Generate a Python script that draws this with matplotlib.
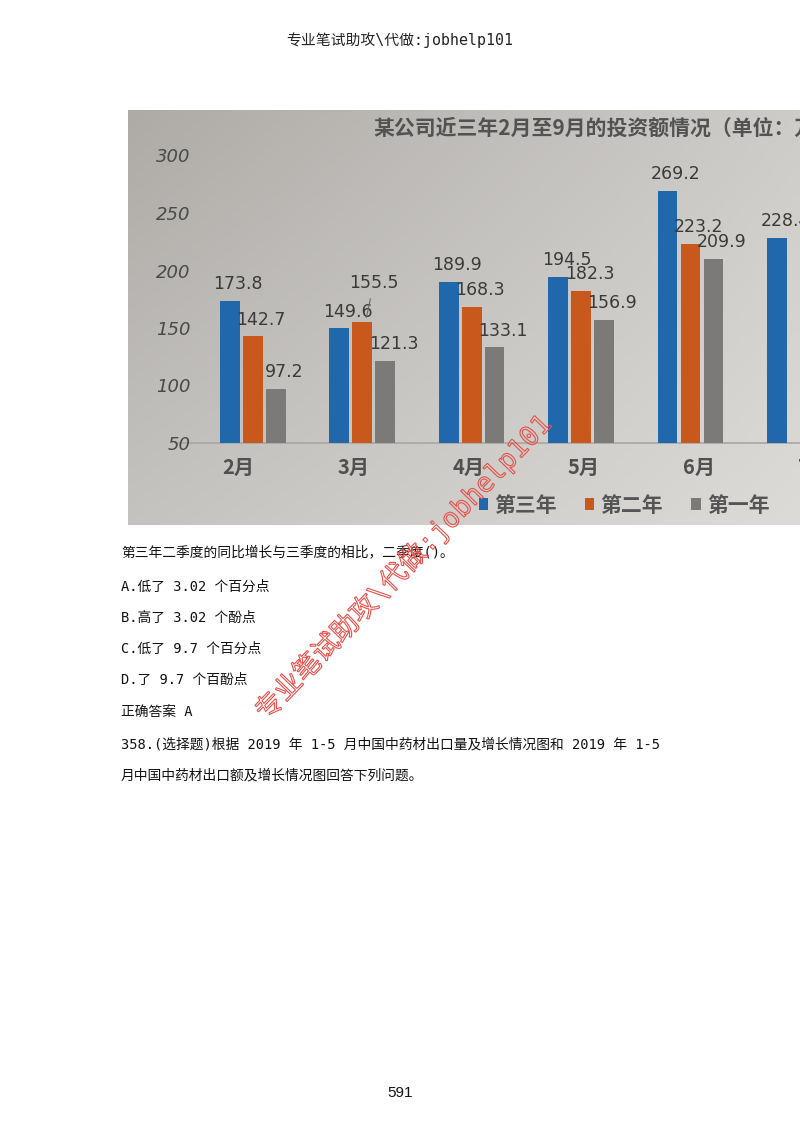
import matplotlib
matplotlib.use("Agg")
import matplotlib.pyplot as plt
import numpy as np
from matplotlib import patheffects
from matplotlib.transforms import ScaledTranslation
from matplotlib.font_manager import FontProperties

# ---------------- data ----------------
months = ["2月", "3月", "4月", "5月", "6月", "7月"]
year3 = [173.8, 149.6, 189.9, 194.5, 269.2, 228.4]
year2 = [142.7, 155.5, 168.3, 182.3, 223.2, np.nan]
year1 = [97.2, 121.3, 133.1, 156.9, 209.9, np.nan]
series_names = ["第三年", "第二年", "第一年"]
yticks = [50, 100, 150, 200, 250, 300]

chart_title = "某公司近三年2月至9月的投资额情况（单位：万元）"
header = "专业笔试助攻\\代做:jobhelp101"
watermark = "专业笔试助攻\\代做:jobhelp101"
body_lines = [
    "第三年二季度的同比增长与三季度的相比，二季度()。",
    "A.低了 3.02 个百分点",
    "B.高了 3.02 个酚点",
    "C.低了 9.7 个百分点",
    "D.了 9.7 个百酚点",
    "正确答案 A",
    "358.(选择题)根据 2019 年 1-5 月中国中药材出口量及增长情况图和 2019 年 1-5",
    "月中国中药材出口额及增长情况图回答下列问题。",
]
page_number = "591"

# ---------------- setup ----------------
plt.rcParams["font.family"] = ["Noto Sans CJK SC", "DejaVu Sans"]
plt.rcParams["axes.unicode_minus"] = False
body_family = ["DejaVu Sans Mono", "Noto Sans CJK SC"]

W, H = 800, 1132
fig = plt.figure(figsize=(W / 100, H / 100), dpi=100)
fig.patch.set_facecolor("white")


def fx(px):
    return px / W


def fy(py):
    return 1 - py / H


# photo background (gradient)
bg = fig.add_axes([fx(128), fy(525), fx(672), 415 / H])
corners = np.array([[[174, 171, 167], [206, 204, 201]],
                    [[197, 195, 192], [221, 219, 216]]]) / 255.0
ny, nx = 60, 120
ty = np.linspace(0, 1, ny)[:, None, None]
tx = np.linspace(0, 1, nx)[None, :, None]
img = ((1 - ty) * ((1 - tx) * corners[0, 0] + tx * corners[0, 1])
       + ty * ((1 - tx) * corners[1, 0] + tx * corners[1, 1]))
bg.imshow(img, aspect="auto", interpolation="bilinear", extent=[0, 1, 0, 1])
bg.set_xlim(0, 1)
bg.set_ylim(0, 1)
bg.axis("off")

# chart axes
ax = fig.add_axes([fx(200), fy(443), fx(600), (443 - 110) / H])
ax.set_facecolor("none")
px_per_unit = 1.15
ax.set_ylim(50, 50 + 333 / px_per_unit)
ax.set_xlim((200 - 254) / 112, (800 - 254) / 112)

colors = ["#2067ab", "#c9581d", "#7c7a78"]
offsets = [-0.21, 0.0, 0.21]
bar_w = 0.18
idx = np.arange(len(months))
handles = []
for vals, col, off, name in zip([year3, year2, year1], colors, offsets, series_names):
    v = np.array(vals, dtype=float)
    m = np.isfinite(v)
    bc = ax.bar(idx[m] + off, v[m] - 50, bottom=50, width=bar_w, color=col,
                label=name, zorder=2)
    handles.append(bc)
    for xi, vi in zip(idx[m] + off, v[m]):
        if name == "第二年" and xi == 1 + off:
            ax.annotate(f"{vi:.1f}", (xi + 0.03, vi), xytext=(6, 28),
                        textcoords="offset points", ha="center", va="center",
                        fontsize=12.5, color="#3a3a3a", family="DejaVu Sans",
                        arrowprops=dict(arrowstyle="-", color="#6a6a6a", lw=0.8,
                                        shrinkA=3, shrinkB=3))
        else:
            ax.annotate(f"{vi:.1f}", (xi, vi), xytext=(6, 12),
                        textcoords="offset points", ha="center", va="center",
                        fontsize=12.5, color="#3a3a3a", family="DejaVu Sans")

for s in ["left", "top", "right", "bottom"]:
    ax.spines[s].set_visible(False)
ax.plot([-0.04, 1], [50, 50], transform=ax.get_yaxis_transform(), clip_on=False,
        color="#a9a7a4", lw=1.2, zorder=1)

ax.set_yticks(yticks)
ax.set_yticklabels([str(t) for t in yticks], fontsize=13, style="italic",
                   color="#4a4a4a", family="DejaVu Sans")
ax.set_xticks(idx)
ax.set_xticklabels(months, fontsize=14.5, fontweight="bold", color="#505050")
ax.tick_params(axis="both", length=0)
ax.tick_params(axis="y", pad=7)
ax.tick_params(axis="x", pad=10)
for i, lab in enumerate(ax.get_xticklabels()):
    shift = ScaledTranslation((-14 + 5.5 * i) / 100, 0, fig.dpi_scale_trans)
    lab.set_transform(lab.get_transform() + shift)

leg = fig.legend(handles, series_names, loc="center",
                 bbox_to_anchor=(fx(624), fy(505)), ncol=3, frameon=False,
                 handlelength=0.45, handleheight=0.45, handletextpad=0.3,
                 columnspacing=1.35,
                 prop=FontProperties(family="Noto Sans CJK SC", size=15, weight="bold"))
for t in leg.get_texts():
    t.set_color("#555555")

fig.text(fx(373), fy(128), chart_title, ha="left", va="center", fontsize=15,
         fontweight="bold", color="#525252")

# page texts
fig.text(0.5, fy(40), header, ha="center", va="center", fontsize=10.7,
         family=body_family, color="#222222")
line_y = [552, 587, 618, 649, 680, 712, 744, 775]
for y, line in zip(line_y, body_lines):
    fig.text(fx(121), fy(y), line, ha="left", va="center", fontsize=9.9,
             family=body_family, color="#111111")
fig.text(0.5, fy(1093), page_number, ha="center", va="center", fontsize=11,
         family="Liberation Sans", color="#111111")

wm = fig.text(fx(404), fy(567), watermark, ha="center", va="center",
              rotation=46, rotation_mode="anchor", fontsize=19.5,
              family=body_family, color="#e8504a", zorder=10)
wm.set_path_effects([patheffects.PathPatchEffect(edgecolor="#e8504a",
                                                 facecolor="none", linewidth=0.8)])

fig.savefig("out.png", dpi=100)
